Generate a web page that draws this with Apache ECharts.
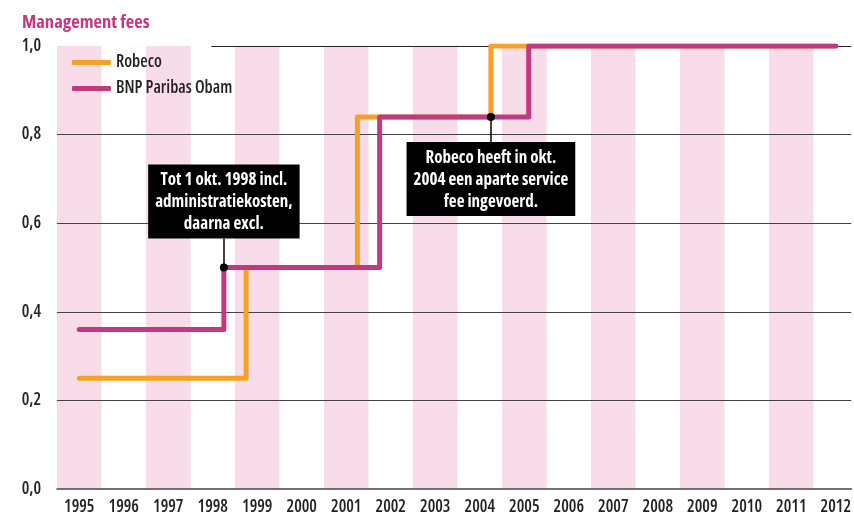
<!DOCTYPE html>
<html>
<head>
<meta charset="utf-8">
<script src="https://cdn.jsdelivr.net/npm/echarts@6/dist/echarts.min.js"></script>
<style>
html,body{margin:0;padding:0;background:#fff;}
#c{width:854px;height:516px;}
</style>
</head>
<body>
<div id="c"></div>
<script>
// ---- data ----
var years = [1995,1996,1997,1998,1999,2000,2001,2002,2003,2004,2005,2006,2007,2008,2009,2010,2011,2012];
var bandYears = [1995,1997,1999,2001,2003,2005,2007,2009,2011];
// step changes: [decimal year, value]
var robecoTimes  = [1995, 1998.75, 2001.25, 2004.25, 2012];
var robecoValues = [0.25, 0.50,    0.84,    1.00,    1.00];
var bnpTimes     = [1995, 1998.25, 2001.75, 2005.1, 2012];
var bnpValues    = [0.36, 0.50,    0.84,    1.00,   1.00];
var note1 = 'Tot 1 okt. 1998 incl.\nadministratiekosten,\ndaarna excl.';
var note2 = 'Robeco heeft in okt.\n2004 een aparte service\nfee ingevoerd.';

var FONT = '"Open Sans", Roboto, sans-serif';
var W_BOLD = 'bold condensed', W_MED = '600 condensed';
var ORANGE = '#f8a12a', MAGENTA = '#c03a80';

function pairs(t, v){ return t.map(function(x,i){ return [x, v[i]]; }); }

var noteLabel = {
  show: true, backgroundColor: '#000', color: '#fff', padding: [5, 7, 3, 7],
  fontFamily: FONT, fontSize: 17, fontWeight: W_BOLD, lineHeight: 22, align: 'center'
};

var chart = echarts.init(document.getElementById('c'), null, {renderer:'canvas'});
chart.setOption({
  animation: false,
  backgroundColor: '#fff',
  title: {
    text: 'Management fees', left: 17, top: 8,
    textStyle: {fontFamily: FONT, fontSize: 18.5, fontWeight: W_BOLD, color: '#c2397f'}
  },
  legend: {
    orient: 'vertical', left: 67, top: 49, itemGap: 9,
    itemWidth: 39, itemHeight: 5, icon: 'roundRect',
    data: ['Robeco', 'BNP Paribas Obam'],
    textStyle: {fontFamily: FONT, fontSize: 17, fontWeight: W_MED, color: '#222'}
  },
  grid: {left: 57, right: 0, top: 46, bottom: 27, containLabel: false},
  xAxis: {
    type: 'value', min: 1994.5, max: 2012.35, z: 1,
    axisLine: {show: true, lineStyle: {color: '#444', width: 1.5}},
    axisTick: {show: false},
    splitLine: {show: false},
    axisLabel: {
      customValues: years, margin: 10,
      formatter: function(v){ return String(Math.round(v)); },
      fontFamily: FONT, fontSize: 17, fontWeight: W_MED, color: '#222'
    }
  },
  yAxis: {
    type: 'value', min: 0, max: 1, interval: 0.2, z: 1,
    axisLine: {show: false}, axisTick: {show: false},
    splitLine: {show: true, showMinLine: false, showMaxLine: false, lineStyle: {color: '#444', width: 1}},
    axisLabel: {
      margin: 16, fontFamily: FONT, fontSize: 17, fontWeight: W_MED, color: '#222',
      formatter: function(v){ return v.toFixed(1).replace('.', ','); }
    }
  },
  series: [
    {
      name: 'bands', type: 'line', data: [], z: 0, silent: true,
      markArea: {
        silent: true, z: 0,
        itemStyle: {color: '#f9dcea'},
        data: bandYears.map(function(y){ return [{xAxis: y - 0.5}, {xAxis: y + 0.5}]; })
      },
      markLine: {
        silent: true, symbol: 'none', z: 1,
        lineStyle: {color: '#222', width: 1, type: 'solid'},
        label: {show: false},
        data: [[{coord: [1997.97, 1]}, {coord: [2012.35, 1]}]]
      }
    },
    {
      name: 'Robeco', type: 'line', step: 'end', z: 3,
      data: pairs(robecoTimes, robecoValues),
      showSymbol: false, symbol: 'none',
      itemStyle: {color: ORANGE},
      lineStyle: {color: ORANGE, width: 5, cap: 'round', join: 'round'}
    },
    {
      name: 'BNP Paribas Obam', type: 'line', step: 'end', z: 4,
      data: pairs(bnpTimes, bnpValues),
      showSymbol: false, symbol: 'none',
      itemStyle: {color: MAGENTA},
      lineStyle: {color: MAGENTA, width: 5, cap: 'round', join: 'round'},
      markLine: {
        silent: true, symbol: 'none', z: 5,
        lineStyle: {color: '#000', width: 1.5, type: 'solid'},
        label: {show: false},
        data: [
          [{coord: [bnpTimes[1], 0.5]}, {coord: [bnpTimes[1], 0.565]}],
          [{coord: [robecoTimes[3], 0.84]}, {coord: [robecoTimes[3], 0.78]}]
        ]
      },
      markPoint: {
        silent: true, symbol: 'circle', symbolSize: 8, z: 6,
        itemStyle: {color: '#000'},
        data: [
          {coord: [bnpTimes[1], 0.5],
           label: Object.assign({formatter: note1, position: 'top', distance: 25}, noteLabel)},
          {coord: [robecoTimes[3], 0.84],
           label: Object.assign({formatter: note2, position: 'bottom', distance: 21}, noteLabel)}
        ]
      }
    }
  ]
});
</script>
</body>
</html>
